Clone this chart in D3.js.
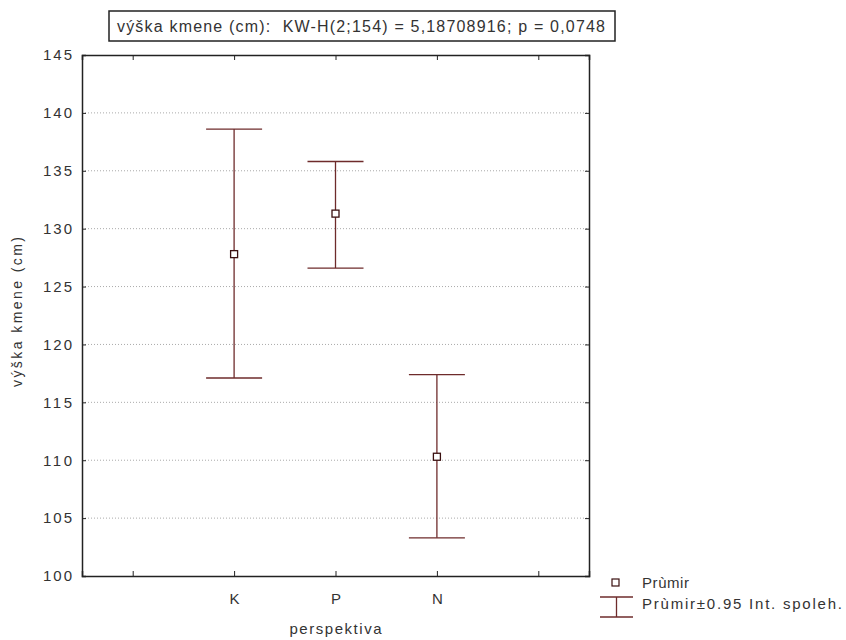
<!DOCTYPE html>
<html lang="cs">
<head>
<meta charset="utf-8">
<title>výška kmene</title>
<script src="https://d3js.org/d3.v7.min.js"></script>
<style>
  body { margin: 0; background: #fff; }
  svg text { font-family: "Liberation Sans", Arial, sans-serif; fill: #333; }
</style>
</head>
<body>
<div id="chart"></div>
<script>
// categories incl. the empty slots at both ends
var categories = ["", "K", "P", "N", " "];
var groups = ["K", "P", "N"];
var means = [127.8, 131.3, 110.3];
var lower = [117.1, 126.6, 103.3];
var upper = [138.6, 135.8, 117.4];
var yTicks = [100, 105, 110, 115, 120, 125, 130, 135, 140, 145];

var width = 846, height = 640;
var margin = {left: 82, top: 55, right: 257, bottom: 64};
var col = "#6e2b2b";

var svg = d3.select("#chart").append("svg")
    .attr("width", width)
    .attr("height", height);

var x = d3.scalePoint()
    .domain(categories)
    .range([margin.left, width - margin.right])
    .padding(0.5);

var y = d3.scaleLinear()
    .domain([100, 145])
    .range([height - margin.bottom, margin.top]);

// grid
svg.append("g").selectAll("line")
    .data(yTicks.slice(1, -1))
    .enter().append("line")
    .attr("x1", margin.left).attr("x2", width - margin.right)
    .attr("y1", d => y(d)).attr("y2", d => y(d))
    .attr("stroke", "#aaa")
    .attr("stroke-dasharray", "1,2");

// axes (ticks point inward)
var yAxis = svg.append("g")
    .attr("transform", "translate(" + margin.left + ",0)")
    .call(d3.axisLeft(y).tickValues(yTicks).tickSize(-4).tickPadding(10));
var xAxis = svg.append("g")
    .attr("transform", "translate(0," + (height - margin.bottom) + ")")
    .call(d3.axisBottom(x).tickSize(-5).tickPadding(17));
svg.append("g")
    .attr("transform", "translate(0," + margin.top + ")")
    .call(d3.axisTop(x).tickSize(-5).tickFormat(""));
svg.append("g")
    .attr("transform", "translate(" + (width - margin.right) + ",0)")
    .call(d3.axisRight(y).tickValues(yTicks).tickSize(-4).tickFormat(""));

svg.selectAll(".domain").attr("stroke", "#222").attr("stroke-width", 1.5);
svg.selectAll(".tick line").attr("stroke", "#222");
svg.selectAll(".tick text").attr("font-size", 15).attr("fill", "#333")
    .style("font-family", "Liberation Sans, Arial, sans-serif");
yAxis.selectAll(".tick text")
    .attr("textLength", 29).attr("lengthAdjust", "spacing");

// error bars
var capW = 28;
var bars = svg.append("g").selectAll("g")
    .data(groups)
    .enter().append("g");
bars.append("line")
    .attr("x1", d => x(d)).attr("x2", d => x(d))
    .attr("y1", (d, i) => y(upper[i])).attr("y2", (d, i) => y(lower[i]))
    .attr("stroke", col).attr("stroke-width", 1.3);
bars.append("line")
    .attr("x1", d => x(d) - capW).attr("x2", d => x(d) + capW)
    .attr("y1", (d, i) => y(upper[i])).attr("y2", (d, i) => y(upper[i]))
    .attr("stroke", col).attr("stroke-width", 1.3);
bars.append("line")
    .attr("x1", d => x(d) - capW).attr("x2", d => x(d) + capW)
    .attr("y1", (d, i) => y(lower[i])).attr("y2", (d, i) => y(lower[i]))
    .attr("stroke", col).attr("stroke-width", 1.3);
bars.append("rect")
    .attr("x", d => x(d) - 3.5).attr("y", (d, i) => y(means[i]) - 3.5)
    .attr("width", 7).attr("height", 7)
    .attr("fill", "#fff").attr("stroke", "#3a1010").attr("stroke-width", 1.3);

// axis titles
svg.append("text")
    .attr("x", x("P")).attr("y", 634)
    .attr("text-anchor", "middle").attr("font-size", 15)
    .attr("textLength", 92).attr("lengthAdjust", "spacing")
    .text("perspektiva");
svg.append("text")
    .attr("transform", "translate(22,312) rotate(-90)")
    .attr("text-anchor", "middle").attr("font-size", 14)
    .attr("textLength", 150).attr("lengthAdjust", "spacing")
    .text("výška kmene (cm)");

// title box
svg.append("rect")
    .attr("x", 109).attr("y", 11).attr("width", 506).attr("height", 30)
    .attr("fill", "#fff").attr("stroke", "#222").attr("stroke-width", 1.5);
svg.append("text")
    .attr("x", 117).attr("y", 31.5).attr("font-size", 16)
    .attr("xml:space", "preserve")
    .attr("textLength", 488).attr("lengthAdjust", "spacing")
    .text("výška kmene (cm):  KW-H(2;154) = 5,18708916; p = 0,0748");

// legend
var lg = svg.append("g");
lg.append("rect")
    .attr("x", 612).attr("y", 579).attr("width", 7).attr("height", 7)
    .attr("fill", "#fff").attr("stroke", "#3a1010").attr("stroke-width", 1.2);
lg.append("text").attr("x", 642).attr("y", 588).attr("font-size", 15)
    .attr("textLength", 47).attr("lengthAdjust", "spacing").text("Prùmir");
lg.append("line").attr("x1", 600).attr("x2", 633).attr("y1", 597).attr("y2", 597)
    .attr("stroke", col).attr("stroke-width", 1.3);
lg.append("line").attr("x1", 600).attr("x2", 633).attr("y1", 617).attr("y2", 617)
    .attr("stroke", col).attr("stroke-width", 1.3);
lg.append("line").attr("x1", 616.5).attr("x2", 616.5).attr("y1", 597).attr("y2", 617)
    .attr("stroke", col).attr("stroke-width", 1.3);
lg.append("text").attr("x", 642).attr("y", 609).attr("font-size", 15)
    .attr("textLength", 200).attr("lengthAdjust", "spacing")
    .text("Prùmir±0.95 Int. spoleh.");
</script>
</body>
</html>
